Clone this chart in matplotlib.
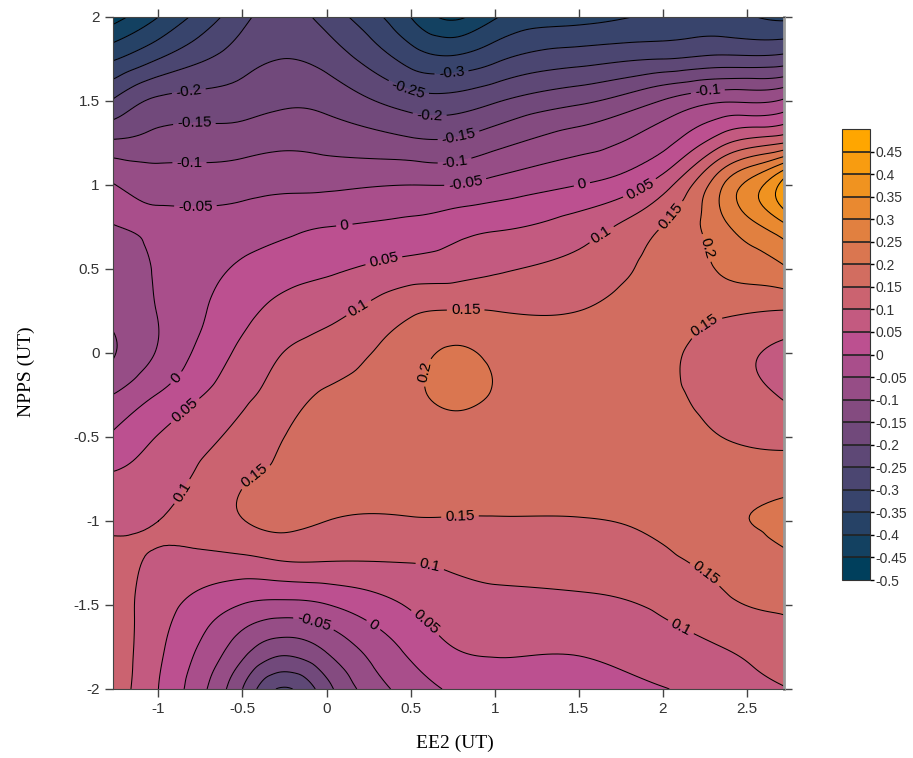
import numpy as np
import matplotlib
matplotlib.use('Agg')
import matplotlib.pyplot as plt
import matplotlib.tri as mtri
from matplotlib.colors import ListedColormap, to_rgb

plt.rcParams['font.family'] = ['Liberation Sans', 'DejaVu Sans']

# grid (EE2 columns, NPPS rows from top to bottom)
ee2 = [-1.27, -1.0, -0.5, -0.27, 0.0, 0.5, 0.75, 1.0, 1.5, 2.0, 2.35, 2.72]
npps = [2.0, 1.75, 1.5, 1.25, 1.0, 0.75, 0.5, 0.25, 0.0,
        -0.25, -0.5, -0.75, -1.0, -1.25, -1.5, -1.75, -2.0]
resp = [
    [-0.47, -0.40, -0.265, -0.225, -0.27, -0.40, -0.46, -0.405, -0.37, -0.34, -0.33, -0.36],
    [-0.355, -0.30, -0.22, -0.20, -0.218, -0.32, -0.34, -0.31, -0.27, -0.25, -0.235, -0.23],
    [-0.245, -0.19, -0.175, -0.16, -0.166, -0.225, -0.23, -0.205, -0.16, -0.097, -0.055, -0.042],
    [-0.14, -0.131, -0.12, -0.11, -0.115, -0.138, -0.14, -0.115, -0.07, -0.014, 0.087, 0.15],
    [-0.048, -0.067, -0.067, -0.06, -0.06, -0.05, -0.05, -0.033, 0.0, 0.078, 0.245, 0.425],
    [-0.052, -0.045, -0.027, -0.014, 0.0, 0.014, 0.03, 0.044, 0.075, 0.152, 0.235, 0.335],
    [-0.07, -0.046, 0.009, 0.029, 0.042, 0.071, 0.079, 0.093, 0.117, 0.17, 0.205, 0.243],
    [-0.085, -0.048, 0.035, 0.065, 0.085, 0.142, 0.152, 0.15, 0.15, 0.172, 0.16, 0.148],
    [-0.104, -0.045, 0.062, 0.099, 0.123, 0.18, 0.207, 0.19, 0.17, 0.16, 0.122, 0.088],
    [-0.049, 0.003, 0.088, 0.123, 0.155, 0.188, 0.212, 0.196, 0.175, 0.16, 0.132, 0.095],
    [0.008, 0.052, 0.118, 0.148, 0.165, 0.175, 0.18, 0.175, 0.175, 0.165, 0.15, 0.137],
    [0.058, 0.075, 0.145, 0.158, 0.165, 0.168, 0.17, 0.17, 0.175, 0.17, 0.172, 0.18],
    [0.09, 0.1, 0.148, 0.16, 0.15, 0.146, 0.146, 0.146, 0.147, 0.162, 0.19, 0.21],
    [0.115, 0.093, 0.083, 0.095, 0.097, 0.1, 0.108, 0.115, 0.118, 0.138, 0.165, 0.19],
    [0.128, 0.072, -0.002, -0.015, -0.002, 0.055, 0.078, 0.085, 0.089, 0.108, 0.14, 0.157],
    [0.135, 0.06, -0.078, -0.125, -0.09, 0.013, 0.05, 0.057, 0.055, 0.08, 0.1, 0.128],
    [0.13, 0.05, -0.15, -0.255, -0.168, -0.028, 0.008, 0.03, 0.04, 0.048, 0.075, 0.098],
]

levels = np.linspace(-0.5, 0.5, 21).round(2) + 0.0

# where the contour labels sit (EE2, NPPS)
label_pos = [(-0.815, 1.524), (-0.786, 1.345), (-0.815, 1.161), (-0.78, 0.893),
             (0.494, 1.595), (0.744, 1.655), (0.613, 1.417), (0.786, 1.286),
             (0.762, 1.137), (0.827, 1.0), (2.268, 1.548), (0.107, 0.75),
             (1.518, 1.006), (0.333, 0.583), (1.845, 1.012), (1.655, 0.673),
             (2.042, 0.821), (2.202, 0.613), (0.179, 0.286), (0.827, 0.256),
             (2.256, 0.155), (0.583, -0.113), (-0.905, -0.137), (-0.845, -0.339),
             (-0.875, -0.815), (-0.458, -0.696), (0.792, -0.946), (0.613, -1.274),
             (2.238, -1.339), (2.113, -1.619), (-0.083, -1.631), (0.286, -1.607),
             (0.613, -1.577)]

# band colours: dark blue -> magenta -> orange
c_lo = np.array(to_rgb('#003f5c'))
c_mid = np.array(to_rgb('#bc5090'))
c_hi = np.array(to_rgb('#ffa600'))
band_colors = [c_lo + (c_mid - c_lo) * i / 10 if i <= 10 else c_mid + (c_hi - c_mid) * (i - 10) / 9
               for i in range(20)]
cmap = ListedColormap(band_colors)

X, Y = np.meshgrid(ee2, npps)
Z = np.array(resp)
tri = mtri.Triangulation(X.ravel(), Y.ravel())
refiner = mtri.UniformTriRefiner(tri)
interp = mtri.CubicTriInterpolator(tri, Z.ravel(), kind='min_E')
tri_f, z_f = refiner.refine_field(Z.ravel(), triinterpolator=interp, subdiv=4)

fig = plt.figure(figsize=(9.13, 7.58), dpi=100)
ax = fig.add_axes([113 / 913, 1 - 689 / 758, 671 / 913, 672 / 758])

cf = ax.tricontourf(tri_f, z_f, levels=levels, cmap=cmap, vmin=-0.5, vmax=0.5)
cs = ax.tricontour(tri_f, z_f, levels=levels, colors='k', linewidths=0.75, linestyles='solid')
ax.clabel(cs, fmt=lambda v: f'{v:g}', fontsize=11, manual=label_pos, inline=True, inline_spacing=4)

ax.set_xlim(-1.27, 2.72)
ax.set_ylim(-2, 2)
ax.set_xticks(np.arange(-1, 2.51, 0.5))
ax.set_yticks(np.arange(-2, 2.01, 0.5))
ax.xaxis.set_major_formatter(plt.FuncFormatter(lambda v, p: f'{v:g}'))
ax.yaxis.set_major_formatter(plt.FuncFormatter(lambda v, p: f'{v:g}'))
ax.tick_params(top=True, right=True, direction='out', length=6, width=1,
               color='#444', labelsize=11, labelcolor='#333')
for s in ['left', 'bottom', 'top']:
    ax.spines[s].set_color('#444')
ax.spines['right'].set_color('#999')
ax.spines['right'].set_linewidth(2)

ax.set_xlabel('EE2 (UT)', fontfamily='Liberation Serif', fontsize=14)
ax.set_ylabel('NPPS (UT)', fontfamily='Liberation Serif', fontsize=14)
ax.xaxis.set_label_coords(0.51, -0.068)
ax.yaxis.set_label_coords(-0.116, 0.472)

cax = fig.add_axes([842 / 913, 1 - 580 / 758, 28 / 913, 451 / 758])
cb = fig.colorbar(cf, cax=cax, ticks=levels[:-1], drawedges=True)
cb.ax.set_yticklabels([f'{v:g}' for v in levels[:-1]])
cb.ax.tick_params(length=3, width=1, pad=1, color='k', labelsize=10, labelcolor='#333')
cb.outline.set_edgecolor('#333')
cb.dividers.set_color('#222')
cb.dividers.set_linewidth(1.2)

fig.savefig('out.png', dpi=100)
